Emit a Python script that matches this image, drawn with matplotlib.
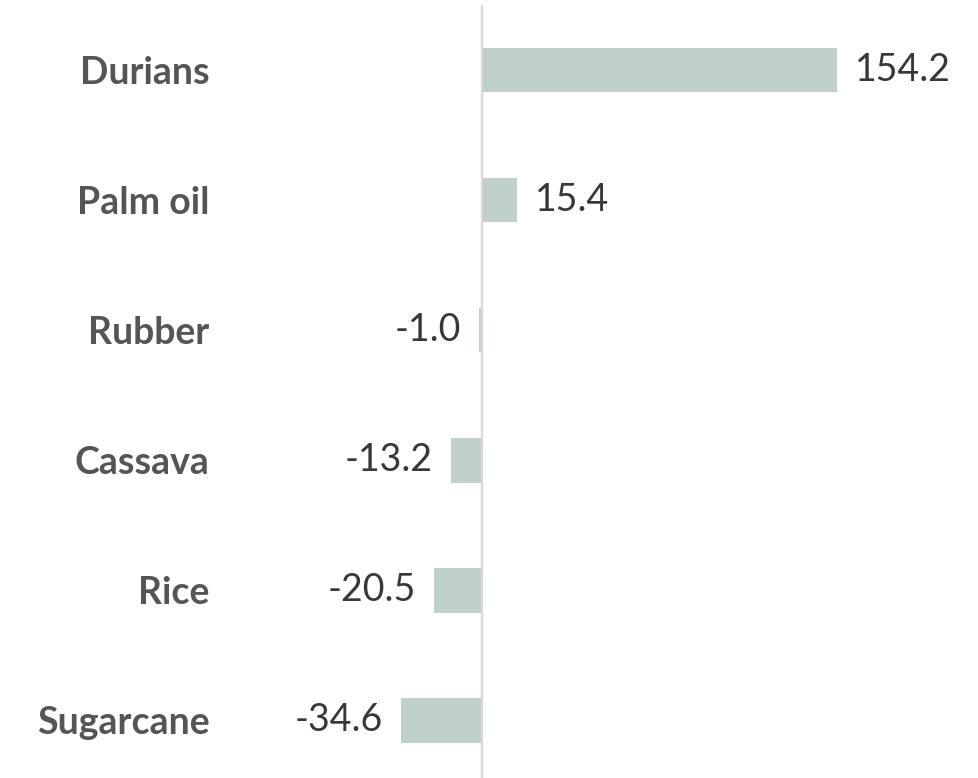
import matplotlib.pyplot as plt

crops = ['Durians', 'Palm oil', 'Rubber', 'Cassava', 'Rice', 'Sugarcane']
changes = [154.2, 15.4, -1.0, -13.2, -20.5, -34.6]

W, H = 979, 778
fig = plt.figure(figsize=(W / 100, H / 100), dpi=100)
# axes placed in pixels: zero line at x=481, bars centered every 130 px
ax = fig.add_axes([250 / W, 0, 693 / W, 773 / H])

bar_color = '#c0d1c9'
ypos = list(range(len(crops)))
ax.barh(ypos, changes, height=0.346, color=bar_color, zorder=1)

ax.set_xlim(-100, 200)
ax.set_ylim(5.446, -0.5)
ax.axvline(0.6, color='#d9d9d9', lw=1.6, zorder=3)

for y, v in zip(ypos, changes):
    if v >= 0:
        ax.annotate(f'{v:.1f}', (v, y), xytext=(13, 0), textcoords='offset points',
                    ha='left', va='center', fontsize=27, color='#383838',
                    family=['Lato', 'DejaVu Sans'])
    else:
        ax.annotate(f'{v:.1f}', (v, y), xytext=(-13, 0), textcoords='offset points',
                    ha='right', va='center', fontsize=27, color='#383838',
                    family=['Lato', 'DejaVu Sans'])

ax.set_yticks(ypos)
ax.set_yticklabels(crops, fontsize=27, fontweight='bold', color='#555555',
                   family=['Lato', 'DejaVu Sans'])
ax.tick_params(axis='y', length=0, pad=29)
ax.set_xticks([])
for s in ax.spines.values():
    s.set_visible(False)

fig.savefig('out.png', dpi=100)
